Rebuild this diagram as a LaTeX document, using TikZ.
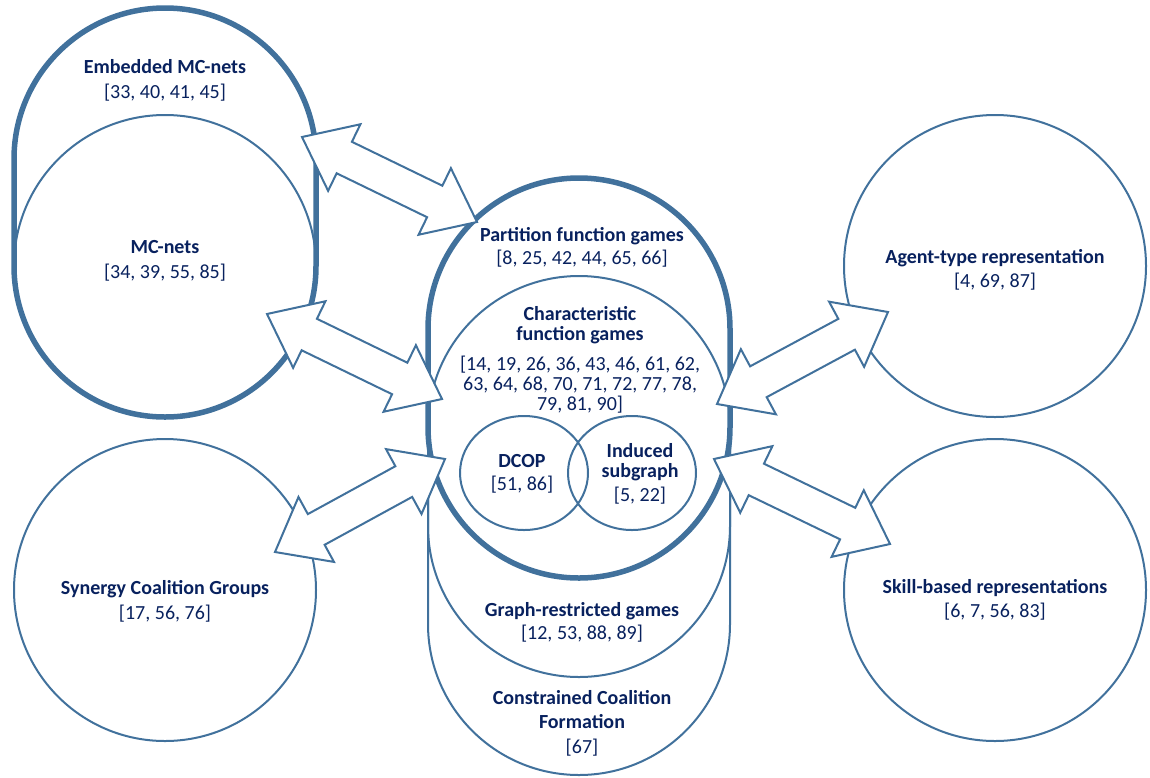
\documentclass[tikz,border=0pt]{standalone}
\usepackage{fontspec}
\setmainfont{Carlito}
\usetikzlibrary{calc}
\definecolor{lineblue}{RGB}{65,113,156}
\definecolor{textnavy}{RGB}{8,33,94}
\tikzset{
  thinline/.style={draw=lineblue, line width=2pt},
  thickline/.style={draw=lineblue, line width=5.5pt},
  barrow/.style={draw=lineblue, line width=2pt, fill=white, line join=miter},
  lbl/.style={align=center, text=textnavy, font=\fontsize{20}{20}\selectfont, inner sep=0pt}
}
\newcommand{\blockarr}[2]{%
  \coordinate (ha) at ($(#1)!47pt!(#2)$);
  \coordinate (hb) at ($(#2)!47pt!(#1)$);
  \draw[barrow] (#1)
    -- ($(ha)!37pt!90:(#2)$) -- ($(ha)!17.5pt!90:(#2)$)
    -- ($(hb)!17.5pt!-90:(#1)$) -- ($(hb)!37pt!-90:(#1)$)
    -- (#2)
    -- ($(hb)!37pt!90:(#1)$) -- ($(hb)!17.5pt!90:(#1)$)
    -- ($(ha)!17.5pt!-90:(#2)$) -- ($(ha)!37pt!-90:(#2)$)
    -- cycle;}
\begin{document}
\begin{tikzpicture}[x=1pt, y=-1pt]
\useasboundingbox (0,0) rectangle (1150,777);
% left: embedded MC-nets (thick stadium) and MC-nets circle
\draw[thickline] (14,266) -- (14,159) arc[start angle=180, end angle=360, radius=151]
  -- (316,266) arc[start angle=0, end angle=180, radius=151] -- cycle;
\draw[thinline] (165,266) circle[radius=151];
% synergy
\draw[thinline] (165,590) circle[radius=151];
% right circles
\draw[thinline] (995,266) circle[radius=151];
\draw[thinline] (995,590) circle[radius=151];
% central nested shapes
\draw[thinline] (428,624) -- (428,329) arc[start angle=180, end angle=360, radius=151]
  -- (730,624) arc[start angle=0, end angle=180, radius=151] -- cycle;
\draw[thinline] (428,526) -- (428,329) arc[start angle=180, end angle=360, radius=151]
  -- (730,526) arc[start angle=0, end angle=180, radius=151] -- cycle;
\draw[thickline] (428,427) -- (428,329) arc[start angle=180, end angle=360, radius=151]
  -- (730,427) arc[start angle=0, end angle=180, radius=151] -- cycle;
\draw[thinline] (579,427) circle[radius=151];
\draw[thinline] (524,473) ellipse[x radius=64, y radius=57];
\draw[thinline] (632,473) ellipse[x radius=64, y radius=57];
% labels
\node[lbl] (emb) at (165,80) {\textbf{Embedded MC-nets}\\[5pt][33, 40, 41, 45]};
\node[lbl] (mcn) at (165,261) {\textbf{MC-nets}\\[5pt][34, 39, 55, 85]};
\node[lbl] (syn) at (165,601) {\textbf{Synergy Coalition Groups}\\[5pt][17, 56, 76]};
\node[lbl] (pfg) at (582,247) {\textbf{Partition function games}\\[3pt][8, 25, 42, 44, 65, 66]};
\node[lbl] (cfg) at (580,360) {\textbf{Characteristic}\\\textbf{function games}\\[10pt][14, 19, 26, 36, 43, 46, 61, 62,\\63, 64, 68, 70, 71, 72, 77, 78,\\79, 81, 90]};
\node[lbl] (dcop) at (522,474) {\textbf{DCOP}\\[3pt][51, 86]};
\node[lbl] (ind) at (640,474) {\textbf{Induced}\\\textbf{subgraph}\\[4pt][5, 22]};
\node[lbl] (grg) at (582,622) {\textbf{Graph-restricted games}\\[3pt][12, 53, 88, 89]};
\node[lbl] (ccf) at (582,723) {\textbf{Constrained Coalition}\\[4pt]\textbf{Formation}\\[5pt][67]};
\node[lbl] (agt) at (995,270) {\textbf{Agent-type representation}\\[4pt][4, 69, 87]};
\node[lbl] (skl) at (995,600) {\textbf{Skill-based representations}\\[4pt][6, 7, 56, 83]};
% arrow end points
\coordinate (a1s) at (302,137); \coordinate (a1e) at (477,222);
\coordinate (a2s) at (267,314); \coordinate (a2e) at (442,399);
\coordinate (a3s) at (275,552); \coordinate (a3e) at (445,459);
\coordinate (a4s) at (717,404); \coordinate (a4e) at (888,312);
\coordinate (a5s) at (714,459); \coordinate (a5e) at (890,544);
\blockarr{a1s}{a1e}
\blockarr{a2s}{a2e}
\blockarr{a3s}{a3e}
\blockarr{a4s}{a4e}
\blockarr{a5s}{a5e}
\end{tikzpicture}
\end{document}
